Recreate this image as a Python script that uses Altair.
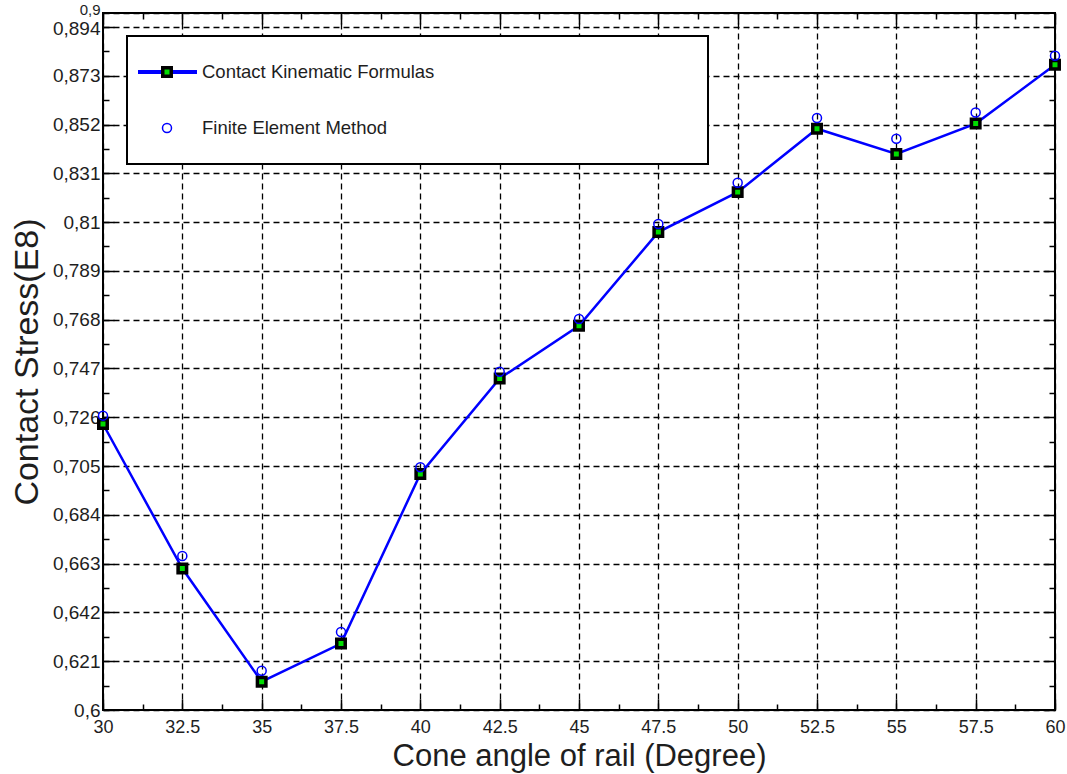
import json
import altair as alt
import pandas as pd

# ---------------- data ----------------
angles = [30, 32.5, 35, 37.5, 40, 42.5, 45, 47.5, 50, 52.5, 55, 57.5, 60]
kinematic = [0.7231, 0.6609, 0.6122, 0.6286, 0.7016, 0.7427, 0.7654, 0.8057,
             0.8229, 0.8502, 0.8393, 0.8524, 0.8777]
fem = [0.7267, 0.6663, 0.6169, 0.6336, 0.7045, 0.7456, 0.7683, 0.8092,
       0.8269, 0.8548, 0.8459, 0.8572, 0.8816]

series_names = ["Contact Kinematic Formulas", "Finite Element Method"]
series_keys = ["K", "F"]

x_major = [30, 32.5, 35, 37.5, 40, 42.5, 45, 47.5, 50, 52.5, 55, 57.5, 60]
x_minor = [31.25, 33.75, 36.25, 38.75, 41.25, 43.75, 46.25, 48.75, 51.25,
           53.75, 56.25, 58.75]
y_major = [0.6, 0.621, 0.642, 0.663, 0.684, 0.705, 0.726, 0.747, 0.768,
           0.789, 0.81, 0.831, 0.852, 0.873, 0.894, 0.9]
y_minor = [0.6105, 0.6315, 0.6525, 0.6735, 0.6945, 0.7155, 0.7365, 0.7575,
           0.7785, 0.7995, 0.8205, 0.8415, 0.8625, 0.8835]

x_title = "Cone angle of rail (Degree)"
y_title = "Contact Stress(E8)"

# ---------------- styling ----------------
W, H = 952, 697
FONT = "Liberation Sans"
TXT = "#1e1e1e"
BLUE = "#0000ff"
GREEN = "#00dd00"

df_k = pd.DataFrame({"angle": angles, "value": kinematic,
                     "series": series_names[0], "key": series_keys[0]})
df_f = pd.DataFrame({"angle": angles, "value": fem,
                     "series": series_names[1], "key": series_keys[1]})

xscale = alt.Scale(domain=[30, 60], nice=False, zero=False)
yscale = alt.Scale(domain=[0.6, 0.9], nice=False, zero=False)

grid_style = dict(grid=True, gridColor="black", gridDash=[6, 4], gridWidth=1.3,
                  gridOpacity=1)

x_axis_main = alt.Axis(orient="bottom", values=x_major,
                       labelExpr="format(datum.value, '.4~g')",
                       labelFlush=False, labelOverlap=False, ticks=False,
                       domain=False, labelFont=FONT, labelFontSize=18,
                       labelColor=TXT, labelPadding=8, title=x_title,
                       titleFont=FONT, titleFontSize=31,
                       titleFontWeight="normal", titleColor=TXT,
                       titlePadding=5, **grid_style)
y_axis_main = alt.Axis(orient="left", values=y_major,
                       labelExpr="replace(format(datum.value, '.3~f'), '.', ',')",
                       labelOffset={"condition": [
                           {"test": "datum.value == 0.9", "value": -4},
                           {"test": "datum.value == 0.894", "value": 2}],
                           "value": 0},
                       labelFontSize={"condition": {"test": "datum.value == 0.9",
                                                    "value": 15},
                                      "value": 19},
                       labelFlush=False, labelOverlap=False, ticks=False,
                       domain=False, labelFont=FONT,
                       labelColor=TXT, labelPadding=3, title=y_title,
                       titleFont=FONT, titleFontSize=34,
                       titleFontWeight="normal", titleColor=TXT,
                       titlePadding=8, **grid_style)

x_all = sorted(x_major + x_minor)
y_all = sorted(y_major[:-1] + y_minor)
x_test = f"indexof({json.dumps(x_major)}, datum.value) >= 0"
y_test = f"indexof({json.dumps(y_major)}, datum.value) >= 0"


def tick_axis(orient, offset, values, test):
    return alt.Axis(orient=orient, offset=offset, values=values, labels=False,
                    domain=False, grid=False, ticks=True, tickColor="black",
                    tickWidth=1.5,
                    tickSize={"condition": {"test": test, "value": 11},
                              "value": 6},
                    title=None)


# spaces followed by a zero-width space widen the framed legend box
# (plain trailing spaces would be trimmed by Vega)
legend_pad = " " * 51 + "\u200b"

legend_line = alt.Legend(
    orient="none", legendX=24, legendY=23, title=None,
    symbolType="stroke", symbolSize=3600, symbolStrokeWidth=4,
    symbolOffset=-3, labelOffset=3, labelFont=FONT, labelFontSize=18.5,
    labelColor=TXT, labelLimit=1500,
    labelExpr="datum.label + '" + legend_pad + "'",
    clipHeight=50, rowPadding=6, padding=11,
    strokeColor="black", fillColor="white")

legend_pts = alt.Legend(
    orient="none", legendX=58, legendY=34, title=None,
    labelExpr="''", labelFontSize=12, clipHeight=50, rowPadding=6,
    padding=0, symbolOpacity=1)

line = alt.Chart(df_k).mark_line(strokeWidth=2.5).encode(
    x=alt.X("angle:Q", scale=xscale, axis=x_axis_main),
    y=alt.Y("value:Q", scale=yscale, axis=y_axis_main),
    color=alt.Color("series:N",
                    scale=alt.Scale(domain=series_names,
                                    range=[BLUE, "rgba(0,0,0,0)"]),
                    legend=legend_line),
)

pt_enc = dict(
    shape=alt.Shape("key:N", scale=alt.Scale(domain=series_keys,
                                             range=["square", "circle"]),
                    legend=legend_pts),
    fill=alt.Fill("key:N", scale=alt.Scale(domain=series_keys,
                                           range=[GREEN, "transparent"]),
                  legend=legend_pts),
    stroke=alt.Stroke("key:N", scale=alt.Scale(domain=series_keys,
                                               range=["black", BLUE]),
                      legend=legend_pts),
    strokeWidth=alt.StrokeWidth("key:N",
                                scale=alt.Scale(domain=series_keys,
                                                range=[3.5, 1.5]),
                                legend=legend_pts),
    size=alt.Size("key:N", scale=alt.Scale(domain=series_keys,
                                           range=[72, 81]),
                  legend=legend_pts),
)

squares = alt.Chart(df_k).mark_point(opacity=1).encode(
    x=alt.X("angle:Q", scale=xscale,
            axis=tick_axis("top", -H, x_all, x_test)),
    y=alt.Y("value:Q", scale=yscale,
            axis=tick_axis("right", -W, y_all, y_test)),
    **pt_enc,
)

circles = alt.Chart(df_f).mark_point(opacity=1).encode(
    x=alt.X("angle:Q", scale=xscale,
            axis=tick_axis("bottom", -H, x_all, x_test)),
    y=alt.Y("value:Q", scale=yscale,
            axis=tick_axis("left", -W, y_all, y_test)),
    **pt_enc,
)

chart = (
    alt.layer(line, squares, circles)
    .resolve_axis(x="independent", y="independent")
    .properties(width=W, height=H,
                padding={"left": 103, "top": 13, "right": 12, "bottom": 64},
                autosize=alt.AutoSizeParams(type="none"),
                background="white")
    .configure_view(stroke="black", strokeWidth=2)
    .configure_legend(strokeWidth=2)
)

chart.save("out.html", embed_options={"renderer": "svg", "actions": False})
